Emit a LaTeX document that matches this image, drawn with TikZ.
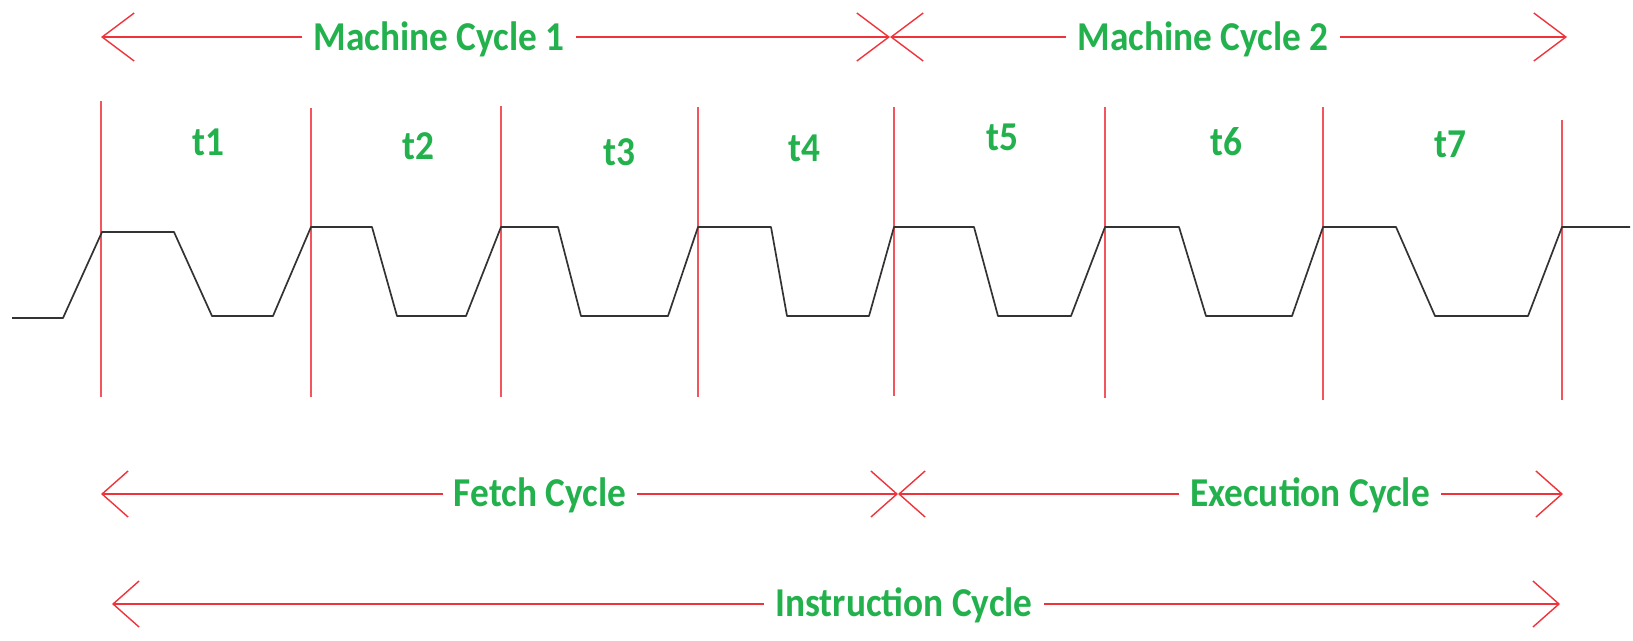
\documentclass[tikz,border=0pt]{standalone}
\usepackage{fontspec}
\usepackage{graphicx}
\setmainfont{Carlito}
\usetikzlibrary{arrows.meta}
\definecolor{tred}{RGB}{237,28,36}
\definecolor{tgreen}{RGB}{34,177,76}
\newcommand\narrowtext[1]{\scalebox{0.91}[1]{#1}}
\begin{document}
\begin{tikzpicture}[x=1pt,y=-1pt,
  lbl/.style={text=tgreen, font=\fontsize{41}{41}\selectfont\bfseries,
    inner sep=0pt, inner xsep=11pt, anchor=base},
  span/.style={draw=tred!90, line width=1.4pt},
  bighead/.style={-{Straight Barb[length=32pt,width=48pt,line width=1.4pt]}},
  smallhead/.style={-{Straight Barb[length=26pt,width=46pt,line width=1.4pt]}},
  tick/.style={draw=tred!75, line width=1.5pt},
  wave/.style={draw=black!80, line width=1.7pt, line join=round}]
\useasboundingbox (0,0) rectangle (1633,640);

% clock period boundaries
\foreach \x/\top/\bot in {101/101/397, 311/108/397, 501/106/397, 698/107/397,
    894/107/396, 1105/107/398, 1323/107/400, 1562/120/400}
  \draw[tick] (\x,\top) -- (\x,\bot);

% clock waveform
\draw[wave] (12,318) -- (63,318) -- (102,232) -- (174,232) -- (212,316)
  -- (273,316) -- (311,227) -- (372,227) -- (397,316) -- (466,316)
  -- (501,227) -- (558,227) -- (581,316) -- (668,316) -- (698,227)
  -- (771,227) -- (787,316) -- (869,316) -- (894,227) -- (974,227)
  -- (998,316) -- (1071,316) -- (1105,227) -- (1179,227) -- (1206,316)
  -- (1292,316) -- (1323,227) -- (1396,227) -- (1435,316) -- (1528,316)
  -- (1562,227) -- (1630,227);

% T-state labels
\node[lbl] (t1) at (208,155) {\narrowtext{t1}};
\node[lbl] (t2) at (418,159) {\narrowtext{t2}};
\node[lbl] (t3) at (619,165) {\narrowtext{t3}};
\node[lbl] (t4) at (804,161) {\narrowtext{t4}};
\node[lbl] (t5) at (1002,150) {\narrowtext{t5}};
\node[lbl] (t6) at (1226,155) {\narrowtext{t6}};
\node[lbl] (t7) at (1450,157) {\narrowtext{t7}};

% machine cycles
\coordinate (mcL) at (101,37);
\coordinate (mcX) at (890,37);
\coordinate (mcR) at (1567,37);
\node[lbl] (mc1) at (439,50) {\narrowtext{Machine Cycle 1}};
\node[lbl] (mc2) at (1203,50) {\narrowtext{Machine Cycle 2}};
\draw[span,bighead] (mcL -| mc1.west) -- (mcL);
\draw[span,bighead] (mcX -| mc1.east) -- (mcX);
\draw[span,bighead] (mcX -| mc2.west) -- (mcX);
\draw[span,bighead] (mcR -| mc2.east) -- (mcR);

% fetch and execution cycles
\coordinate (feL) at (101,494);
\coordinate (feX) at (898,494);
\coordinate (exR) at (1563,494);
\node[lbl] (fe) at (540,506) {\narrowtext{Fetch Cycle}};
\node[lbl] (ex) at (1310,506) {\narrowtext{Execution Cycle}};
\draw[span,smallhead] (feL -| fe.west) -- (feL);
\draw[span,smallhead] (feX -| fe.east) -- (feX);
\draw[span,smallhead] (feX -| ex.west) -- (feX);
\draw[span,smallhead] (exR -| ex.east) -- (exR);

% instruction cycle
\coordinate (inL) at (112,604);
\coordinate (inR) at (1560,604);
\node[lbl] (in) at (904,616) {\narrowtext{Instruction Cycle}};
\draw[span,smallhead] (inL -| in.west) -- (inL);
\draw[span,smallhead] (inR -| in.east) -- (inR);
\end{tikzpicture}
\end{document}
